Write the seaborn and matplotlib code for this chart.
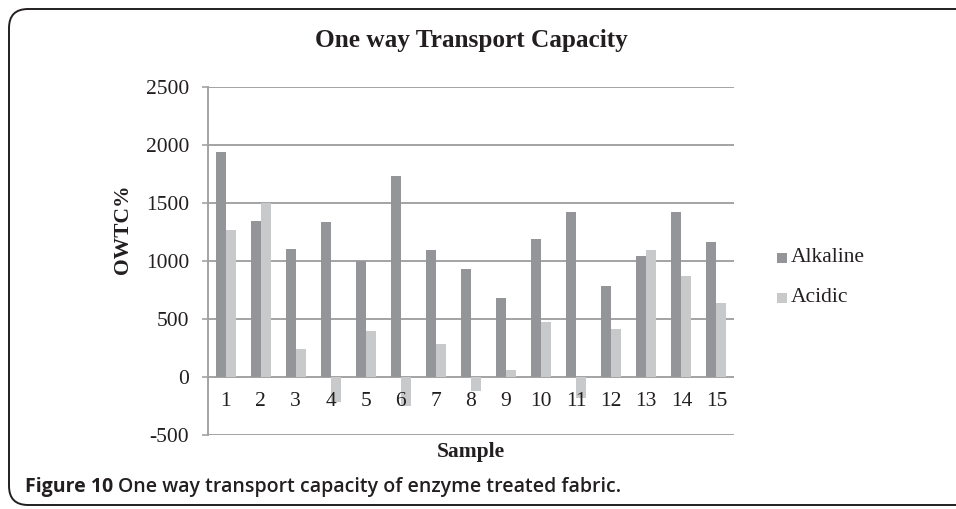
import matplotlib
matplotlib.use("Agg")
import matplotlib.pyplot as plt
from matplotlib.patches import FancyBboxPatch, Rectangle
import seaborn as sns
import pandas as pd

# One way transport capacity (OWTC%) per sample
samples = [str(i) for i in range(1, 16)]
alkaline = [1934, 1339, 1098, 1336, 1000, 1733, 1092, 925, 681, 1184, 1420, 782, 1040, 1420, 1158]
acidic = [1264, 1500, 236, -216, 394, -250, 282, -124, 60, 471, -187, 414, 1092, 868, 635]
series = ["Alkaline", "Acidic"]
yticks = [-500, 0, 500, 1000, 1500, 2000, 2500]

df = pd.DataFrame({
    "Sample": samples * 2,
    "Series": [series[0]] * len(samples) + [series[1]] * len(samples),
    "OWTC": alkaline + acidic,
})

sns.set_theme(style="white")
plt.rcParams["font.family"] = ["Liberation Serif", "DejaVu Serif"]

W, H = 956, 509
fig = plt.figure(figsize=(W / 100, H / 100), dpi=100)

def fx(px):
    return px / W

def fy(py):
    return 1 - py / H

# rounded caption box
frame = FancyBboxPatch((fx(9), fy(505)), fx(980) - fx(9), fy(9) - fy(505),
                       boxstyle="round,pad=0,rounding_size=0.02",
                       transform=fig.transFigure, fill=False,
                       edgecolor="#231f20", linewidth=1.4, mutation_aspect=W / H)
fig.patches.append(frame)

ax = fig.add_axes([fx(208), fy(434.7), fx(734) - fx(208), fy(86.7) - fy(434.7)])

palette = {"Alkaline": "#939598", "Acidic": "#c8c9cb"}
sns.barplot(data=df, x="Sample", y="OWTC", hue="Series", hue_order=series,
            palette=palette, width=0.57, gap=0, saturation=1,
            edgecolor="none", linewidth=0, legend=False, ax=ax, zorder=3)

grid_col = "#a3a3a3"
ax.set_ylim(-500, 2500)
ax.set_xlim(-0.5, len(samples) - 0.5)
ax.set_yticks(yticks)
ax.set_yticklabels([str(v) for v in yticks], fontsize=15.5, color="#231f20")
for v in yticks:
    ax.axhline(v, color=grid_col, linewidth=1.4, zorder=1)
for s in ["top", "right", "bottom"]:
    ax.spines[s].set_visible(False)
ax.spines["left"].set_color(grid_col)
ax.spines["left"].set_linewidth(1.4)
ax.tick_params(axis="y", length=4.5, width=1.2, color=grid_col, pad=9, left=True)
ax.set_xticks([])
ax.set_xlabel("")
ax.set_ylabel("")

# category labels sit just below the zero line
for i, s in enumerate(samples):
    ax.text(i, -215, s, ha="center", va="center", fontsize=15.5, color="#231f20")

fig.text(fx(471), fy(40), "One way Transport Capacity", ha="center", va="center",
         fontsize=18.2, fontweight="bold", color="#231f20")
fig.text(fx(123), fy(229), "OWTC%", ha="center", va="center", rotation=90,
         fontsize=15.5, fontweight="bold", color="#231f20")
fig.text(fx(471), fy(452), "Sample", ha="center", va="center",
         fontsize=15.5, fontweight="bold", color="#231f20")

# legend
for k, (name, yy) in enumerate(zip(series, [258, 298])):
    fig.patches.append(Rectangle((fx(777), fy(yy + 5)), fx(10), fy(yy - 5) - fy(yy + 5),
                                 transform=fig.transFigure, facecolor=palette[name],
                                 edgecolor="none"))
    fig.text(fx(791), fy(yy), name, ha="left", va="center", fontsize=15.5, color="#231f20")

cap_font = ["Open Sans", "DejaVu Sans"]
t1 = fig.text(fx(25), fy(487), "Figure 10", ha="left", va="center", fontsize=14,
              fontweight="bold", color="#231f20", family=cap_font)
fig.canvas.draw()
bb = t1.get_window_extent()
fig.text(bb.x1 / W + fx(5), fy(487), "One way transport capacity of enzyme treated fabric.",
         ha="left", va="center", fontsize=14, fontweight="semibold", color="#231f20",
         family=cap_font)

fig.savefig("out.png", dpi=100)
